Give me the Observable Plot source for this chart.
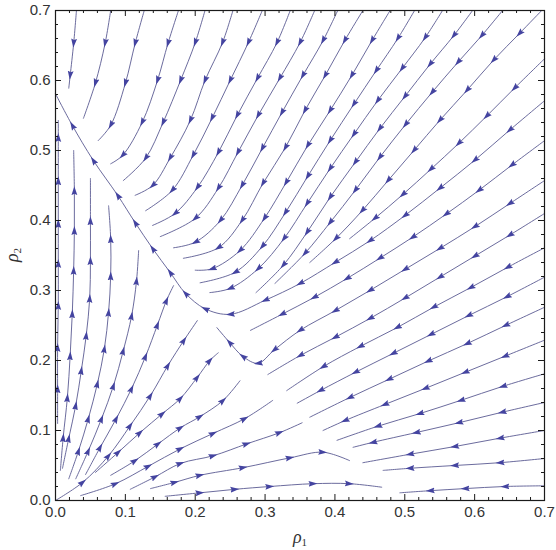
<!DOCTYPE html>
<html>
<head>
<meta charset="utf-8">
<script src="https://cdn.jsdelivr.net/npm/d3@7"></script>
<script src="https://cdn.jsdelivr.net/npm/@observablehq/plot@0.6"></script>
<style>
  html, body { margin: 0; padding: 0; background: #fff; }
  #chart { width: 556px; height: 550px; }
</style>
</head>
<body>
<div id="chart"></div>
<script>
// ---- axis data ----
const xTicks = [0, 0.1, 0.2, 0.3, 0.4, 0.5, 0.6, 0.7];
const yTicks = [0, 0.1, 0.2, 0.3, 0.4, 0.5, 0.6, 0.7];
const xTickLabels = ["0.0", "0.1", "0.2", "0.3", "0.4", "0.5", "0.6", "0.7"];
const yTickLabels = ["0.0", "0.1", "0.2", "0.3", "0.4", "0.5", "0.6", "0.7"];
const minorTicks = [0.02, 0.04, 0.06, 0.08, 0.12, 0.14, 0.16, 0.18, 0.22, 0.24, 0.26, 0.28,
  0.32, 0.34, 0.36, 0.38, 0.42, 0.44, 0.46, 0.48, 0.52, 0.54, 0.56, 0.58, 0.62, 0.64, 0.66, 0.68];
const xTitle = ["ρ", "1"];
const yTitle = ["ρ", "2"];

// ---- streamlines: [rho1, rho2] points in flow direction ----
const upperStreams = [
  [[.030,.700],[.026,.653],[.021,.607],[.019,.589]],
  [[.079,.700],[.071,.653],[.057,.596],[.040,.546]],
  [[.127,.700],[.114,.653],[.100,.596],[.079,.536],[.061,.514]],
  [[.176,.700],[.161,.653],[.146,.600],[.124,.540],[.096,.493],[.079,.481]],
  [[.214,.700],[.200,.654],[.179,.600],[.154,.540],[.129,.489],[.097,.457]],
  [[.254,.700],[.239,.654],[.214,.600],[.193,.543],[.164,.489],[.139,.450],[.114,.436]],
  [[.296,.700],[.276,.654],[.250,.600],[.224,.546],[.197,.493],[.167,.443],[.129,.414]],
  [[.336,.700],[.317,.654],[.289,.603],[.260,.550],[.233,.497],[.203,.447],[.171,.410],[.139,.393]],
  [[.371,.700],[.350,.654],[.321,.603],[.290,.550],[.261,.497],[.233,.446],[.200,.403],[.150,.377]],
  [[.404,.700],[.383,.657],[.354,.607],[.324,.554],[.296,.503],[.267,.450],[.236,.400],[.200,.369],[.169,.361]],
  [[.440,.700],[.414,.657],[.386,.607],[.357,.557],[.329,.504],[.297,.453],[.267,.400],[.233,.361],[.183,.346]],
  [[.479,.700],[.453,.657],[.424,.607],[.393,.557],[.361,.507],[.330,.454],[.299,.403],[.264,.357],[.224,.331],[.200,.329]],
  [[.514,.700],[.490,.660],[.459,.614],[.427,.566],[.393,.514],[.361,.463],[.329,.411],[.296,.363],[.257,.326],[.207,.311]],
  [[.554,.700],[.529,.661],[.496,.617],[.461,.571],[.427,.523],[.393,.474],[.360,.424],[.327,.374],[.290,.331],[.250,.303],[.221,.297]],
  [[.597,.700],[.570,.664],[.536,.623],[.500,.577],[.464,.531],[.429,.483],[.393,.433],[.360,.383],[.326,.336],[.287,.297]],
  [[.640,.700],[.610,.664],[.576,.626],[.539,.583],[.501,.537],[.464,.490],[.429,.443],[.393,.397],[.357,.353],[.314,.310]],
  [[.696,.700],[.664,.667],[.627,.629],[.589,.586],[.550,.543],[.513,.500],[.476,.457],[.439,.414],[.401,.374],[.364,.340]]
];

const rightStreams = [
  [[.700,.631],[.657,.589],[.617,.549],[.577,.510],[.537,.473],[.497,.437],[.457,.403],[.421,.374]],
  [[.700,.514],[.653,.479],[.606,.443],[.559,.409],[.511,.376],[.464,.346],[.417,.317],[.370,.290],[.324,.266],[.279,.243]],
  [[.700,.410],[.650,.379],[.600,.349],[.550,.319],[.500,.289],[.450,.260],[.400,.233],[.350,.207],[.304,.180]],
  [[.700,.361],[.647,.333],[.594,.304],[.541,.276],[.489,.247],[.436,.220],[.383,.191],[.331,.157]],
  [[.700,.319],[.646,.291],[.591,.264],[.537,.237],[.483,.210],[.429,.183],[.379,.157],[.346,.139]],
  [[.700,.276],[.644,.250],[.589,.224],[.533,.199],[.477,.173],[.421,.147],[.364,.119]],
  [[.700,.229],[.643,.206],[.586,.183],[.529,.160],[.471,.137],[.414,.114],[.383,.100]],
  [[.700,.181],[.640,.163],[.580,.143],[.521,.124],[.461,.106],[.403,.086]],
  [[.700,.140],[.639,.126],[.577,.111],[.516,.097],[.454,.083],[.426,.076]],
  [[.700,.100],[.636,.089],[.571,.077],[.507,.066],[.440,.054]],
  [[.700,.060],[.636,.054],[.571,.050],[.507,.046],[.469,.043]],
  [[.700,.021],[.643,.020],[.586,.017],[.536,.014],[.493,.011]]
];

const separatrix = [
  [[.700,.571],[.650,.529],[.600,.486],[.550,.446],[.500,.407],[.450,.371],[.400,.340],[.350,.310],[.300,.286],
   [.250,.266],[.214,.274],[.186,.296],[.164,.326],[.139,.360],[.114,.397],[.089,.436],[.054,.486],[.024,.536],[.000,.581]],
  [[.700,.457],[.650,.424],[.600,.391],[.550,.360],[.500,.330],[.450,.300],[.400,.271],[.350,.243],[.313,.215],
   [.290,.196],[.268,.206],[.249,.226],[.231,.247]]
];

const originStreams = [
  [[.003,.110],[.003,.160],[.003,.219],[.004,.279],[.004,.339],[.004,.396],[.004,.457],[.004,.519],[.004,.543]],
  [[.007,.043],[.011,.090],[.017,.147],[.021,.207],[.024,.267],[.026,.329],[.027,.386],[.027,.443],[.026,.500]],
  [[.010,.046],[.019,.089],[.029,.136],[.037,.186],[.044,.236],[.049,.289],[.050,.343],[.050,.400],[.050,.460]],
  [[.019,.031],[.033,.071],[.047,.117],[.060,.167],[.070,.217],[.076,.269],[.079,.321],[.079,.374],[.076,.421]],
  [[.029,.031],[.047,.071],[.066,.117],[.083,.164],[.097,.214],[.109,.264],[.116,.314],[.119,.357]],
  [[.043,.037],[.064,.076],[.087,.117],[.109,.160],[.129,.206],[.146,.251],[.159,.286],[.169,.307]],
  [[.000,.000],[.039,.026],[.076,.064],[.107,.107],[.136,.150],[.161,.193],[.184,.229],[.203,.257]],
  [[.057,.040],[.090,.069],[.121,.097],[.153,.124],[.179,.146],[.203,.176],[.221,.200],[.233,.211]],
  [[.079,.036],[.114,.057],[.147,.081],[.179,.104],[.207,.120],[.240,.143],[.264,.171]],
  [[.036,.007],[.086,.024],[.133,.049],[.179,.074],[.226,.096],[.271,.117],[.311,.143]],
  [[.107,.016],[.143,.034],[.179,.053],[.226,.064],[.274,.081],[.321,.097],[.353,.111]],
  [[.136,.017],[.171,.026],[.207,.036],[.269,.047],[.336,.061],[.383,.069],[.421,.057]],
  [[.157,.006],[.207,.011],[.257,.016],[.307,.020],[.369,.024],[.421,.024],[.467,.019]]
];

// ---- build table for Plot ----
const rows = [];
[upperStreams, rightStreams, separatrix, originStreams].forEach((group, gi) =>
  group.forEach((line, li) =>
    line.forEach(([x, y]) => rows.push({id: `${gi}-${li}`, x, y}))));

const lineColor = "#5a5a92";
const arrowColor = "#4444a0";
const inkColor = "#1a1a1a";

const chart = Plot.plot({
  width: 556,
  height: 550,
  marginLeft: 55,
  marginRight: 12,
  marginTop: 10,
  marginBottom: 50,
  style: {fontFamily: "'Liberation Sans', Arial, sans-serif", fontSize: "15px", background: "#fff", color: "#333"},
  x: {domain: [0, 0.7]},
  y: {domain: [0, 0.7]},
  marks: [
    Plot.line(rows, {x: "x", y: "y", z: "id", curve: "catmull-rom", stroke: lineColor, strokeWidth: 0.9, markerMid: "arrow"}),
    // inward ticks on all four sides
    Plot.ruleX(xTicks, {insetTop: 484, stroke: inkColor}),
    Plot.ruleX(xTicks, {insetBottom: 484, stroke: inkColor}),
    Plot.ruleY(yTicks, {insetRight: 483, stroke: inkColor}),
    Plot.ruleY(yTicks, {insetLeft: 483, stroke: inkColor}),
    Plot.ruleX(minorTicks, {insetTop: 487, stroke: inkColor}),
    Plot.ruleX(minorTicks, {insetBottom: 487, stroke: inkColor}),
    Plot.ruleY(minorTicks, {insetRight: 486, stroke: inkColor}),
    Plot.ruleY(minorTicks, {insetLeft: 486, stroke: inkColor}),
    Plot.frame({stroke: inkColor, strokeWidth: 1.2}),
    Plot.axisX(xTicks, {tickSize: 0, tickPadding: 6, label: null, fontSize: 15,
      tickFormat: d => xTickLabels[xTicks.indexOf(d)]}),
    Plot.axisY(yTicks, {tickSize: 0, tickPadding: 5, label: null, fontSize: 15,
      tickFormat: d => yTickLabels[yTicks.indexOf(d)]})
  ]
});

// filled arrowheads
const NS = "http://www.w3.org/2000/svg";
chart.querySelectorAll("marker").forEach(m => {
  m.setAttribute("viewBox", "-5 -5 10 10");
  m.setAttribute("markerWidth", 10.5);
  m.setAttribute("markerHeight", 10.5);
  m.setAttribute("fill", arrowColor);
  m.setAttribute("stroke", "none");
  while (m.firstChild) m.removeChild(m.firstChild);
  const p = document.createElementNS(NS, "path");
  p.setAttribute("d", "M-5,-3.1L4.5,0L-5,3.1L-3.6,0Z");
  m.appendChild(p);
});

// axis titles with subscripts
function title(parts, transform) {
  const t = document.createElementNS(NS, "text");
  t.setAttribute("transform", transform);
  t.setAttribute("text-anchor", "middle");
  t.setAttribute("font-family", "'Liberation Serif', 'DejaVu Serif', serif");
  t.setAttribute("font-size", 18);
  t.setAttribute("fill", "#333");
  const a = document.createElementNS(NS, "tspan");
  a.setAttribute("font-style", "italic");
  a.textContent = parts[0];
  const b = document.createElementNS(NS, "tspan");
  b.setAttribute("font-size", 11);
  b.setAttribute("dy", 3);
  b.textContent = parts[1];
  t.appendChild(a); t.appendChild(b);
  chart.appendChild(t);
}
title(xTitle, "translate(300,543)");
title(yTitle, "translate(18,255) rotate(-90)");

document.getElementById("chart").appendChild(chart);
</script>
</body>
</html>
